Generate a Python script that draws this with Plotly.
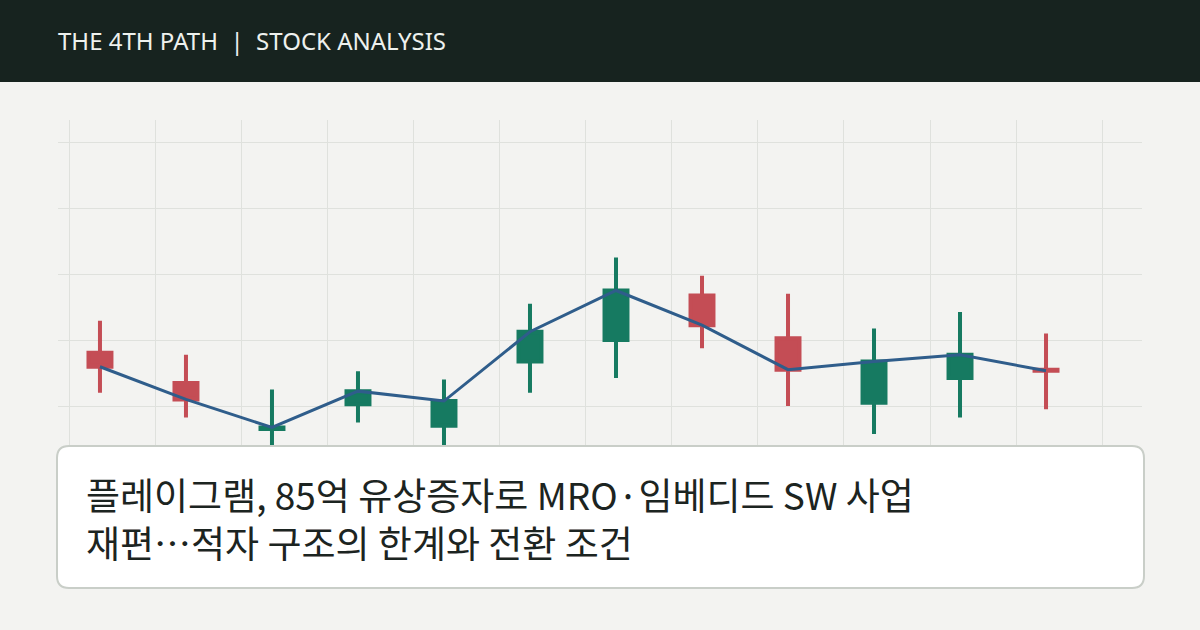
import plotly.graph_objects as go

# daily candles (price in won), index 0..11
days = list(range(12))
open_ = [4161, 4070, 3930, 4005, 3940, 4135, 4200, 4335, 4205, 4010, 4085, 4110]
high = [4258, 4155, 4050, 4105, 4080, 4310, 4450, 4395, 4340, 4235, 4285, 4220]
low = [4040, 3965, 3850, 3950, 3860, 4040, 4085, 4175, 4000, 3915, 3965, 3990]
close = [4119, 4020, 3935, 4045, 4015, 4225, 4350, 4245, 4110, 4135, 4155, 4107]

header = "THE 4TH PATH \u00a0|\u00a0 STOCK ANALYSIS"
title_lines = ["플레이그램, 85억 유상증자로 MRO·임베디드 SW 사업",
               "재편…적자 구조의 한계와 전환 조건"]

W, H = 1200, 630
BG = "#f3f3f1"
UP = "#167a61"
DOWN = "#c44d55"


def px_x(p):
    return p / W


def px_y(p):
    return 1 - p / H


fig = go.Figure()

fig.add_trace(go.Candlestick(
    x=days, open=open_, high=high, low=low, close=close,
    increasing=dict(line=dict(color=UP, width=4), fillcolor=UP),
    decreasing=dict(line=dict(color=DOWN, width=4), fillcolor=DOWN),
    whiskerwidth=0, showlegend=False, hoverinfo="skip",
))
fig.add_trace(go.Scatter(
    x=days, y=close, mode="lines",
    line=dict(color="#2f5d8b", width=3),
    showlegend=False, hoverinfo="skip",
))

# rounded caption box (pixel coords -> paper)
x0, x1, y0, y1, r = 57, 1144, 446, 588, 12
pts = [
    ("M", x0 + r, y0), ("L", x1 - r, y0), ("Q", x1, y0, x1, y0 + r),
    ("L", x1, y1 - r), ("Q", x1, y1, x1 - r, y1), ("L", x0 + r, y1),
    ("Q", x0, y1, x0, y1 - r), ("L", x0, y0 + r), ("Q", x0, y0, x0 + r, y0),
]
path = ""
for p in pts:
    cmd, coords = p[0], p[1:]
    xy = []
    for i in range(0, len(coords), 2):
        xy.append(f"{px_x(coords[i]):.5f},{px_y(coords[i + 1]):.5f}")
    path += cmd + " " + " ".join(xy) + " "
path += "Z"

fig.add_shape(type="rect", xref="paper", yref="paper", x0=0, x1=1,
              y0=px_y(82), y1=1, fillcolor="#17231f", line_width=0, layer="above")
fig.add_shape(type="path", xref="paper", yref="paper", path=path,
              fillcolor="white", line=dict(color="#c9cec8", width=2), layer="above")

fig.add_annotation(text=header, xref="paper", yref="paper", x=px_x(56), y=px_y(40),
                   xanchor="left", yanchor="middle", showarrow=False,
                   font=dict(family="Noto Sans", size=24, color="#eef1ee"))
fig.add_annotation(text="<br>".join(title_lines), xref="paper", yref="paper",
                   x=px_x(84), y=px_y(518), xanchor="left", yanchor="middle",
                   align="left", showarrow=False,
                   font=dict(family="Noto Sans CJK KR", size=37, color="#1c2421"))

fig.update_layout(
    width=W, height=H,
    margin=dict(l=0, r=0, t=0, b=0),
    paper_bgcolor=BG, plot_bgcolor=BG,
    boxgap=0.733, boxgroupgap=0,
    xaxis=dict(domain=[px_x(58), px_x(1142)], range=[-0.488, 12.116],
               tick0=-0.349, dtick=1, showticklabels=False, showline=False,
               gridcolor="#dfe1dd", gridwidth=1, zeroline=False,
               rangeslider=dict(visible=False)),
    yaxis=dict(domain=[px_y(580), px_y(120)], range=[3472.7, 4866.7],
               tick0=4000, dtick=200, showticklabels=False, showline=False,
               gridcolor="#dfe1dd", gridwidth=1, zeroline=False),
    hovermode=False,
)

fig.write_html("out.html", config={"displayModeBar": False},
               post_script="document.body.style.margin='0';"
                           "document.body.style.background='" + BG + "';")
